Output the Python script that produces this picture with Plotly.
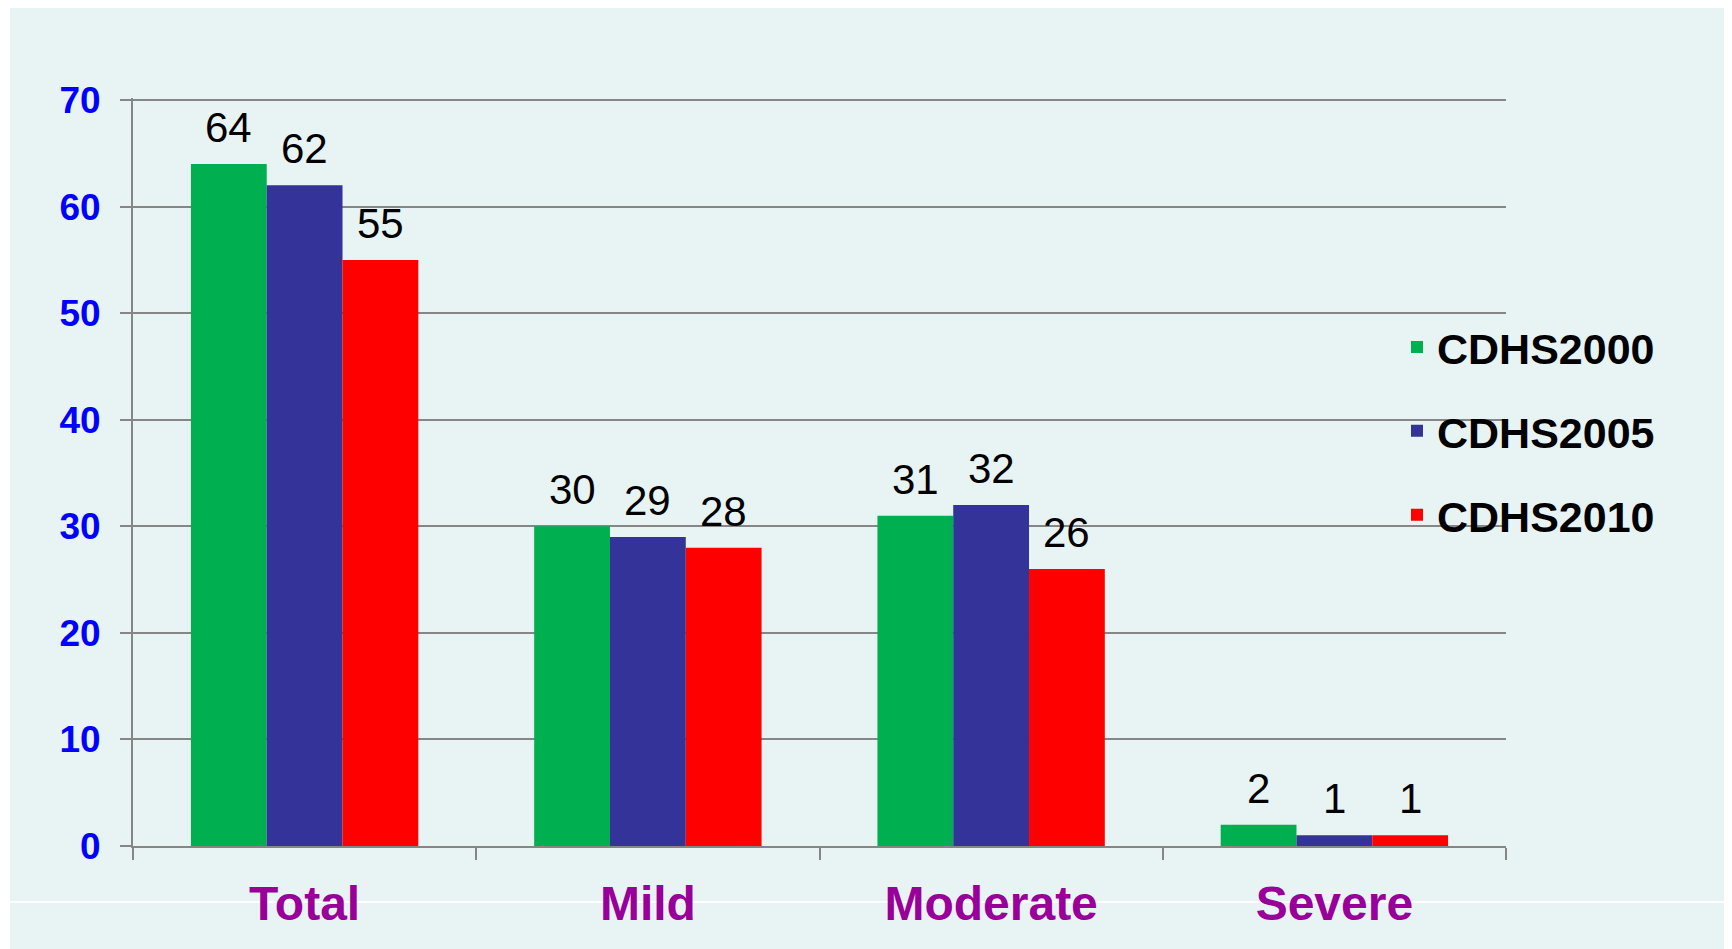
import plotly.graph_objects as go

# ---- data ----
categories = ["Total", "Mild", "Moderate", "Severe"]
series_names = ["CDHS2000", "CDHS2005", "CDHS2010"]
cdhs2000 = [64, 30, 31, 2]
cdhs2005 = [62, 29, 32, 1]
cdhs2010 = [55, 28, 26, 1]
y_ticks = [0, 10, 20, 30, 40, 50, 60, 70]

series_values = [cdhs2000, cdhs2005, cdhs2010]
colors = ["#00B050", "#333399", "#FF0000"]

# ---- layout geometry (page has an 8px body margin) ----
OFF = 8
W, H = 1732 - OFF, 949 - OFF
ML, MR, MT, MB = 125, 226, 90, 103
PW, PH = W - ML - MR, H - MT - MB
YMAX = 70.2
BARGAP = 0.3376
FONT = "Liberation Sans, Arial, sans-serif"


def px_x(page_px):
    return (page_px - OFF - ML) / PW


def px_y(page_py):
    return (H - MB - (page_py - OFF)) / PH


fig = go.Figure()
for name, vals, col in zip(series_names, series_values, colors):
    fig.add_trace(go.Bar(
        name=name, x=categories, y=vals,
        marker=dict(color=col, line=dict(width=0)),
        legendgroup=name,
    ))

# data labels above bars
nser = len(series_names)
bw = (1 - BARGAP) / nser
annotations = []
for k, vals in enumerate(series_values):
    off = (k - (nser - 1) / 2) * bw
    for i, v in enumerate(vals):
        annotations.append(dict(
            x=i + off, y=v, xref="x", yref="y", text=str(v),
            showarrow=False, yanchor="bottom", xanchor="center", yshift=11,
            font=dict(family=FONT, size=42, color="black"),
        ))

shapes = [
    dict(type="rect", xref="paper", yref="paper", layer="below",
         x0=px_x(0), x1=px_x(10), y0=px_y(H + OFF + 5), y1=px_y(0),
         fillcolor="white", line=dict(width=0)),
    dict(type="line", xref="paper", yref="paper", layer="below",
         x0=px_x(10), x1=px_x(1740), y0=px_y(902), y1=px_y(902),
         line=dict(color="white", width=2)),
]

fig.update_layout(
    width=W, height=H,
    margin=dict(l=ML, r=MR, t=MT, b=MB, pad=0),
    paper_bgcolor="#E8F4F4",
    plot_bgcolor="rgba(0,0,0,0)",
    barmode="group", bargap=BARGAP, bargroupgap=0,
    font=dict(family=FONT),
    showlegend=True,
    legend=dict(
        x=px_x(1397), xanchor="left", y=px_y(431), yanchor="middle",
        bgcolor="rgba(0,0,0,0)", borderwidth=0,
        font=dict(family=FONT, size=43, color="black", weight="bold"),
        tracegroupgap=25, traceorder="grouped",
    ),
    annotations=annotations,
    shapes=shapes,
    xaxis=dict(
        type="category", tickson="boundaries",
        ticks="outside", ticklen=12, tickwidth=2, tickcolor="#868686",
        showline=True, linecolor="#868686", linewidth=2,
        showgrid=False, zeroline=False,
        tickfont=dict(family=FONT, size=48, color="#990099", weight="bold"),
        ticklabelstandoff=14,
    ),
    yaxis=dict(
        range=[0, YMAX], tickvals=y_ticks, ticktext=[str(t) for t in y_ticks],
        ticks="outside", ticklen=11, tickwidth=2, tickcolor="#868686",
        showline=True, linecolor="#868686", linewidth=2,
        showgrid=True, gridcolor="#868686", gridwidth=2, zeroline=False,
        tickfont=dict(family=FONT, size=37, color="#0000FF", weight="bold"),
        ticklabelstandoff=12,
    ),
)

fig.write_html("out.html")
